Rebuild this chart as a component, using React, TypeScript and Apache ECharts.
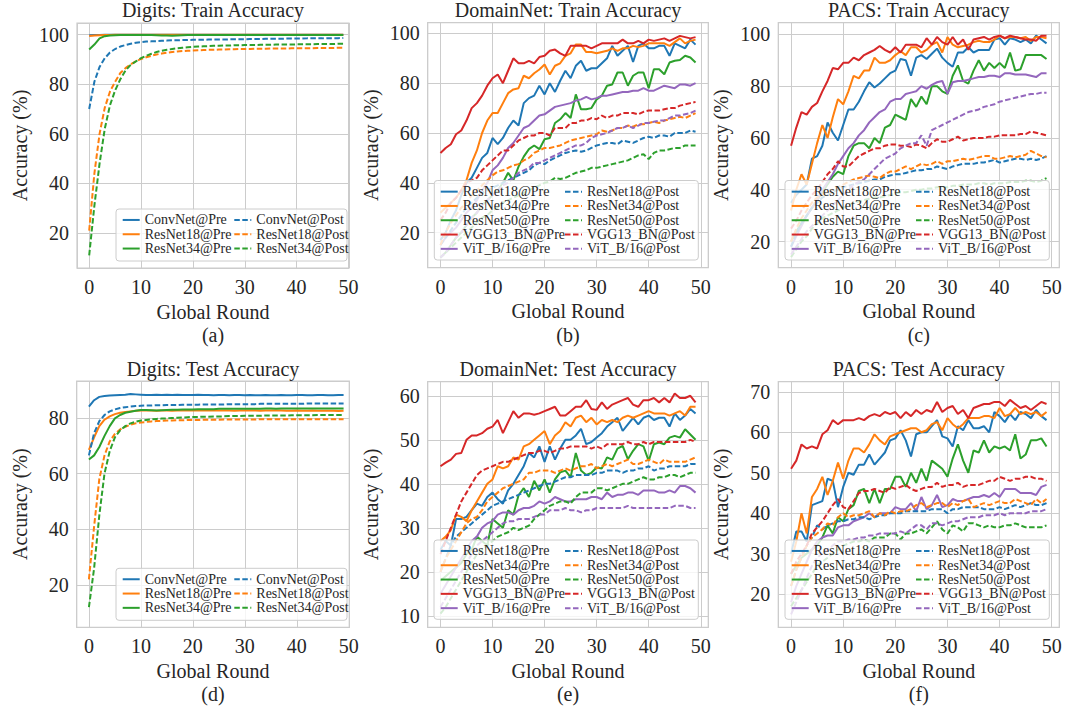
import React, { useEffect, useRef } from "react";
import * as echarts from "echarts";

const rounds = Array.from({ length: 50 }, (_, i) => i);

// ---------- (a) Digits: Train Accuracy ----------
const aConvPre = [
  99.8, 99.9, 99.9, 100, 100, 100, 100, 100, 100, 100,
  100, 100, 100, 100, 100, 100, 100, 100, 100, 100,
  100, 100, 100, 100, 100, 100, 100, 100, 100, 100,
  100, 100, 100, 100, 100, 100, 100, 100, 100, 100,
  100, 100, 100, 100, 100, 100, 100, 100, 100, 100,
];
const aR18Pre = [
  99.5, 99.7, 99.8, 99.9, 99.9, 100, 100, 100, 100, 100,
  100, 100, 100, 100, 100, 100, 100, 100, 100, 100,
  100, 100, 100, 100, 100, 100, 100, 100, 100, 100,
  100, 100, 100, 100, 100, 100, 100, 100, 100, 100,
  100, 100, 100, 100, 100, 100, 100, 100, 100, 100,
];
const aR34Pre = [
  94, 96, 98.5, 99.4, 99.7, 99.8, 99.9, 99.9, 99.9, 99.9,
  99.9, 99.9, 99.9, 99.8, 99.7, 99.7, 99.6, 99.7, 99.8, 99.9,
  99.9, 99.9, 99.9, 99.9, 99.9, 99.9, 99.9, 99.9, 99.9, 99.9,
  99.9, 99.9, 99.9, 99.9, 99.9, 99.9, 99.9, 99.9, 99.9, 99.9,
  99.9, 99.9, 99.9, 99.9, 99.9, 99.9, 99.9, 99.9, 99.9, 99.9,
];
const aConvPost = [
  70, 81, 87, 90.5, 92.8, 94.2, 95.2, 95.8, 96.3, 96.7,
  97, 97.2, 97.3, 97.4, 97.5, 97.6, 97.7, 97.7, 97.8, 97.8,
  97.9, 97.9, 97.9, 98, 98, 98, 98, 98.1, 98.1, 98.1,
  98.1, 98.2, 98.2, 98.2, 98.3, 98.3, 98.3, 98.3, 98.4, 98.4,
  98.4, 98.4, 98.5, 98.5, 98.5, 98.5, 98.6, 98.6, 98.6, 98.7,
];
const aR18Post = [
  21, 44, 60, 70.5, 77, 81, 84.5, 86.5, 88, 89.2,
  90.2, 90.9, 91.5, 92, 92.4, 92.7, 93, 93.2, 93.4, 93.5,
  93.6, 93.7, 93.8, 93.9, 93.9, 94, 94, 94.1, 94.1, 94.2,
  94.2, 94.2, 94.3, 94.3, 94.3, 94.4, 94.4, 94.4, 94.4, 94.5,
  94.5, 94.5, 94.5, 94.5, 94.6, 94.6, 94.6, 94.6, 94.7, 94.7,
];
const aR34Post = [
  11, 31, 48, 62, 71.5, 77.5, 82, 85.5, 87.8, 89.2,
  90.5, 91.5, 92.3, 93, 93.5, 93.9, 94.2, 94.5, 94.7, 94.9,
  95.1, 95.2, 95.3, 95.4, 95.5, 95.5, 95.6, 95.6, 95.7, 95.7,
  95.8, 95.8, 95.8, 95.9, 95.9, 95.9, 96, 96, 96, 96,
  96.1, 96.1, 96.1, 96.1, 96.2, 96.2, 96.2, 96.2, 96.3, 96.3,
];

// ---------- (b) DomainNet: Train Accuracy ----------
const bR18Pre = [
  17, 20, 25, 29, 35, 40, 42, 46, 50, 52,
  58, 55.5, 58, 62, 65, 63, 72, 74, 75, 79,
  75.5, 80, 76.5, 81, 85, 82, 87, 89, 85, 86,
  86, 88, 90, 95, 91, 93, 95, 88.5, 95, 96,
  94, 94, 95, 95, 91, 96, 95, 94, 97.5, 95.5,
];
const bR34Pre = [
  28, 30, 32, 34, 37, 41, 48, 53, 60, 65,
  68, 68, 72, 76, 77.5, 78, 83, 82, 84, 85.5,
  87.5, 83.5, 87, 88, 91, 92, 95.5, 95.5, 92.5, 92.5,
  92, 92.5, 93, 94, 93, 94, 94, 95, 94.5, 95,
  96, 96, 96, 96, 95, 96.5, 98, 96, 97, 97.5,
];
const bR50Pre = [
  10, 12, 15, 18, 20, 23, 26, 28, 31, 33,
  35, 37, 40, 44, 41, 46.5, 50.5, 53.5, 55, 53.5,
  57.5, 58, 64, 65.5, 68, 66, 75.5, 69.5, 69.5, 70,
  73.5, 75, 79, 79.5, 84.3, 84.3, 79, 83, 84.3, 84.3,
  78, 85.6, 85.6, 83.6, 88.3, 89, 89.3, 91, 90.3, 88.3,
];
const bVggPre = [
  52, 54, 55.5, 59.5, 61, 65, 70, 72, 75, 79,
  82, 83.5, 80, 85, 90, 88, 88, 89, 88, 90.5,
  91, 93, 93.5, 92, 91, 95, 95, 95, 95, 94,
  95, 96, 96, 96, 96, 97.5, 96, 96, 97, 96,
  97.5, 97, 97.5, 98, 97, 98, 99, 98.5, 98, 98.5,
];
const bVitPre = [
  15, 18, 20, 22, 25, 28, 30, 33, 37, 40,
  45, 47, 50, 54, 56, 59, 62, 63, 65, 67,
  67.5, 69, 70.5, 71, 71.5, 72, 73, 73.5, 74.5, 73.5,
  74, 75, 75, 75.5, 76, 76.5, 76.5, 77, 77, 78,
  77, 77, 78, 79, 78.5, 78, 79.5, 79.5, 79, 80,
];
const bR18Post = [
  15, 18, 21, 24, 27, 30, 32, 34, 36, 37,
  38, 39, 40, 41, 42, 43, 44, 45, 47, 48,
  47.5, 49, 50, 51, 52, 52.5, 53, 52.5, 53, 54,
  55, 55.5, 56, 56, 55.5, 57, 56.5, 56, 57, 58,
  58.5, 58, 59, 59, 58.5, 60, 60, 60, 61, 60.5,
];
const bR34Post = [
  15, 20, 24, 27, 30, 32, 35, 37, 39, 41,
  43, 44.5, 45, 46, 47, 47.5, 49, 50, 52, 53,
  54, 54, 54.5, 55, 56, 57, 57.5, 58, 58.5, 59,
  59.5, 61, 60.5, 61, 62, 62, 63, 62.5, 63.5, 63.5,
  64, 64.5, 64, 65, 65.5, 66, 66.5, 66, 67, 68,
];
const bR50Post = [
  10, 12, 14, 16, 18, 20, 22, 24, 26, 27,
  29, 30, 32, 33, 34, 35, 36, 37, 38, 39,
  40, 40.5, 42, 41.5, 42, 43, 44, 44.5, 45, 46,
  46, 46.5, 47, 47.5, 48, 48.5, 49, 50, 51, 51.5,
  49.5, 52, 53, 53, 53.5, 54, 54, 55, 55, 55,
];
const bVggPost = [
  25, 28, 32, 34, 37, 40, 41, 42, 45, 47,
  49, 51, 53, 53, 55, 57, 58, 59, 59, 60,
  60, 59, 62, 62, 62, 64, 64, 65, 65, 66,
  65.5, 67, 66, 67, 67, 68, 68, 68, 67.5, 68.5,
  69, 69, 69, 69.5, 70, 70, 71, 71.5, 72, 72.5,
];
const bVitPost = [
  10, 12, 15, 18, 20, 23, 26, 28, 31, 33,
  35, 37, 39, 40, 42, 44, 45, 46, 48, 48,
  49, 50, 51, 52, 53, 54, 55, 55, 56, 58,
  59, 59.5, 60, 61, 62, 62, 63, 62, 63, 64,
  64, 64.5, 65, 65, 66, 67, 67, 67.5, 68, 69,
];

// ---------- (c) PACS: Train Accuracy ----------
const cR18Pre = [
  35, 38, 40, 42, 52, 53, 57, 66, 62, 59,
  65, 71, 71, 74, 78, 81.5, 79.5, 81, 83, 85,
  86, 90.5, 90, 84, 91, 92, 90.5, 92.5, 94.5, 91,
  89, 87.5, 93, 93, 95, 93, 94, 94, 94, 98,
  98.5, 96, 98.5, 98, 97, 98, 96.5, 99.5, 98, 96.5,
];
const cR34Pre = [
  32, 40, 46, 42, 50, 58, 65, 60, 68, 75,
  73, 78, 84, 83, 86, 86, 91, 89, 89, 90,
  92, 93.5, 92, 95, 95, 93, 94, 96, 97, 93,
  99, 96, 95, 95.5, 96, 97, 97.5, 97, 97, 98,
  99.5, 98.5, 99, 99, 98.5, 99, 97.5, 99, 99, 98.5,
];
const cR50Pre = [
  20, 24, 27, 30, 33, 36, 39, 42, 45, 47,
  46, 53, 57, 58, 58, 56, 60, 58, 64, 65,
  69, 68, 67, 75, 72, 76, 73, 80, 80, 78,
  77, 84, 88, 82, 81, 86, 90, 86, 89, 87,
  89, 87, 93, 86, 86.5, 92, 92, 92, 92, 90.5,
];
const cVggPre = [
  57, 64, 70, 69, 72, 73.5, 78, 82, 87, 86.5,
  89, 89, 91, 90, 92, 93, 94, 95.5, 94, 93,
  95, 93, 96, 96, 96, 95, 98.5, 96, 99, 97,
  96, 99, 96, 98, 94, 98, 98.5, 99, 98, 99,
  99.5, 98.5, 99.5, 99, 98.5, 98, 98, 97.5, 99.5, 99.5,
];
const cVitPre = [
  18, 22, 26, 30, 33, 36, 40, 43, 46, 50,
  53, 56, 58, 61, 63, 66, 68, 70, 71, 74,
  75, 75, 77, 77.5, 78, 80, 79, 80.5, 81.5, 82,
  77, 81.5, 82, 82, 82.5, 83, 83.5, 83.5, 84, 84,
  83.5, 85, 85, 84.5, 84.5, 84.5, 84, 83.5, 85, 85,
];
const cR18Post = [
  18, 23, 27, 30, 33, 35, 37, 38, 39, 40,
  41, 41.5, 42, 42.5, 43, 43.5, 44, 44, 45, 45.5,
  46, 46, 46.5, 47, 47.5, 47.5, 48, 48, 49, 48.5,
  48, 49, 49.5, 50, 50, 50, 50.5, 50.5, 51, 51.5,
  50.5, 51, 51.5, 52, 52, 51.5, 52, 51.5, 52, 53,
];
const cR34Post = [
  20, 25, 29, 32, 35, 37, 38, 39, 40, 41,
  42, 43, 44, 44.5, 45, 45.5, 45, 44.5, 46, 47,
  47, 48, 49, 48, 49, 50, 49.5, 50, 51, 50,
  51, 51, 51.5, 52, 51.5, 52, 52.5, 53, 53, 52,
  52, 52.5, 53, 52.5, 53, 53.5, 55, 54, 53, 52.5,
];
const cR50Post = [
  14, 17, 20, 22, 25, 27, 29, 30, 31, 32,
  33, 34, 35, 35.5, 36, 36.5, 37, 37, 37.5, 38,
  38.5, 39, 39, 39.5, 40, 40, 40.5, 40.5, 41, 41,
  41, 41.5, 41.5, 42, 42, 42, 42.5, 42.5, 42, 42.5,
  42.5, 42.5, 43, 43, 43, 43.5, 43.5, 43, 43.5, 44.5,
];
const cVggPost = [
  25, 28, 32, 35, 38, 40, 43, 46, 48, 51,
  49, 49, 51, 53, 54, 55, 56, 56, 57, 57.5,
  57.5, 57, 57, 56.5, 57.5, 57, 56, 58, 59.5, 58.5,
  58.5, 59.5, 60.5, 59, 59.5, 60, 60, 60, 60.5, 60.5,
  61, 61, 61, 61, 61.5, 61.5, 62.5, 62, 61.5, 61,
];
const cVitPost = [
  15, 18, 21, 24, 26, 28, 30, 32, 34, 36,
  38, 40, 42, 43, 44, 46, 48, 50, 52, 53,
  54, 56, 57, 58, 58, 61, 57, 63, 64, 65,
  66, 67, 68, 69, 70, 70.5, 71, 72, 72.5, 73,
  74, 74.5, 75, 75.5, 76, 76.5, 77, 77, 77.5, 77.5,
];

// ---------- (d) Digits: Test Accuracy ----------
const dConvPre = [
  84, 86.3, 87.5, 87.8, 88, 88.1, 88.2, 88.3, 88.5, 88.4,
  88.3, 88.2, 88.2, 88.3, 88.2, 88.3, 88.2, 88.3, 88.2, 88.2,
  88.2, 88.3, 88.2, 88.2, 88.1, 88.2, 88.2, 88.1, 88.2, 88.2,
  88.1, 88.2, 88.1, 88.1, 88.2, 88.1, 88.1, 88.2, 88.1, 88.1,
  88.2, 88.2, 88.1, 88.1, 88.2, 88.2, 88.1, 88.1, 88.2, 88.2,
];
const dR18Pre = [
  68.5, 73, 77, 79.3, 80.5, 81.3, 81.8, 82.1, 82.3, 82.5,
  82.6, 82.6, 82.6, 82.5, 82.6, 82.6, 82.5, 82.6, 82.6, 82.6,
  82.6, 82.6, 82.6, 82.6, 82.6, 82.6, 82.6, 82.6, 82.5, 82.6,
  82.6, 82.6, 82.6, 82.5, 82.6, 82.6, 82.6, 82.6, 82.5, 82.5,
  82.6, 82.5, 82.5, 82.6, 82.5, 82.5, 82.5, 82.5, 82.4, 82.5,
];
const dR34Pre = [
  65, 66.5, 69.5, 73.5, 77, 79.8, 81, 81.8, 82.2, 82.5,
  82.8, 82.8, 82.7, 82.6, 82.7, 82.8, 82.9, 82.9, 83, 83,
  83, 83.1, 83.1, 83.1, 83.1, 83.2, 83.2, 83.2, 83.2, 83.2,
  83.2, 83.2, 83.2, 83.2, 83.3, 83.3, 83.2, 83.3, 83.3, 83.3,
  83.3, 83.3, 83.3, 83.3, 83.3, 83.3, 83.3, 83.3, 83.3, 83.3,
];
const dConvPost = [
  66.5, 74.5, 78.8, 81, 82.3, 83, 83.5, 83.8, 84, 84.2,
  84.3, 84.4, 84.4, 84.5, 84.5, 84.6, 84.6, 84.6, 84.7, 84.7,
  84.7, 84.7, 84.8, 84.8, 84.8, 84.8, 84.8, 84.9, 84.9, 84.9,
  84.9, 84.9, 84.9, 85, 85, 85, 85, 85, 85, 85,
  85, 85, 85.1, 85.1, 85.1, 85.1, 85.1, 85.1, 85.1, 85.1,
];
const dR18Post = [
  22, 41, 58, 66.5, 71.5, 74.2, 75.8, 76.8, 77.5, 78,
  78.3, 78.5, 78.7, 78.8, 78.9, 79, 79, 79.1, 79.1, 79.2,
  79.2, 79.2, 79.3, 79.3, 79.3, 79.3, 79.4, 79.4, 79.4, 79.4,
  79.4, 79.4, 79.4, 79.5, 79.5, 79.5, 79.5, 79.5, 79.5, 79.5,
  79.5, 79.5, 79.5, 79.5, 79.5, 79.5, 79.5, 79.5, 79.5, 79.5,
];
const dR34Post = [
  12, 26, 45, 60, 68, 73, 75.5, 77, 78, 78.6,
  79, 79.2, 79.4, 79.6, 79.7, 79.8, 79.9, 80, 80.1, 80.2,
  80.3, 80.3, 80.4, 80.4, 80.5, 80.5, 80.5, 80.6, 80.6, 80.6,
  80.7, 80.7, 80.7, 80.7, 80.8, 80.8, 80.8, 80.8, 80.8, 80.9,
  80.9, 80.9, 80.9, 80.9, 81, 81, 81, 81, 81, 81,
];

// ---------- (e) DomainNet: Test Accuracy ----------
const eR18Pre = [
  25, 27, 26, 32, 32, 32.5, 34, 35.5, 35, 37,
  38, 36.5, 35.5, 38.5, 40, 42, 44, 47, 46, 48.5,
  45, 48.5, 45.5, 48, 50, 50, 51, 52.5, 49, 49.5,
  50.5, 51.5, 53, 54, 55, 52, 53.5, 55, 53.5, 55,
  55.5, 54.5, 55, 55, 53, 56, 54.5, 55.5, 57, 56,
];
const eR34Pre = [
  27, 28, 29.5, 33, 32.5, 31.5, 34, 36, 38, 40,
  41, 44, 43.5, 44, 46, 45.5, 48.5, 49, 50, 51,
  52, 49, 51, 52, 54, 53, 55, 55.5, 54, 55,
  53.5, 54.5, 54, 54.5, 54, 55, 55.5, 55, 55.5, 56,
  56.5, 56, 56, 56, 55.5, 56, 56.5, 55.5, 57.5, 57.5,
];
const eR50Pre = [
  18, 19, 20, 21, 22, 24, 25, 28, 27, 26,
  32, 31, 30, 34, 33, 37.4, 39, 37, 40.7, 38.5,
  41, 38, 41, 42.6, 43, 41.5, 47, 43, 42, 42.5,
  43.7, 43.5, 46, 45.5, 48, 48.6, 45.6, 47.5, 49, 48.5,
  45.2, 49, 49.4, 49, 50.5, 50.9, 50.5, 52.4, 51.2, 50,
];
const eVggPre = [
  44, 44.8, 45.5, 46.8, 47, 50, 51, 51, 51.5, 52.5,
  53, 54.5, 51.5, 54, 56.5, 55, 56, 56, 55.7, 56,
  56.5, 57, 57.5, 55.5, 55.5, 56.5, 57.5, 57.5, 59, 57,
  56.8, 58.5, 57, 58, 58.5, 59, 59.5, 58, 57.5, 59,
  59, 59.5, 58.5, 59.5, 58.5, 60.5, 59.5, 59.5, 60, 58.5,
];
const eVitPre = [
  15, 17, 19, 21, 23, 25, 27, 28, 30, 31,
  31.5, 33, 33.5, 33.5, 33, 34, 34.5, 34.5, 35, 36,
  35.5, 36, 37, 36.5, 36, 36, 36.5, 36.5, 36.5, 37,
  37, 36.5, 38, 37, 37.5, 37.5, 38, 38, 37.5, 38.5,
  38.5, 38.5, 38, 38, 38.5, 38, 39.5, 39.5, 39, 38,
];
const eR18Post = [
  20, 23, 26, 28, 29, 30, 31, 32, 33, 34,
  35, 35.5, 36, 36.5, 37, 37.5, 38, 38.5, 39, 39.5,
  40, 40, 40.5, 41, 41.5, 41.5, 42, 42, 42, 42,
  42.5, 42.5, 43, 43, 43, 42.5, 43, 43, 43.5, 43.5,
  44, 43, 43.5, 43.5, 44, 44, 44, 44, 44.5, 44.5,
];
const eR34Post = [
  20, 23, 25, 27, 29, 31, 32, 32.5, 34, 36,
  37, 38, 39, 39.5, 40, 40.5, 41, 42.5, 42.5, 43,
  43, 43, 42.5, 43, 43.5, 43, 43.5, 44, 44, 44.5,
  43.5, 44, 44.5, 44, 44.5, 45, 45.5, 44.5, 44.5, 45,
  45.5, 45, 44.5, 45.5, 45, 45, 45, 45, 45.5, 46,
];
const eR50Post = [
  10.5, 12, 14, 16, 18, 20, 22, 24, 25, 26,
  27, 28, 28.5, 29, 30, 29.5, 30, 30.5, 32, 33,
  34, 35, 35.5, 36, 36, 35.5, 37, 38, 38, 38,
  39, 39, 38.5, 39, 39.5, 40, 40, 40.5, 41, 41.5,
  41, 41, 41.5, 41.5, 42, 42, 41.5, 42, 42.5, 42.5,
];
const eVggPost = [
  24, 27, 30, 33, 36, 38, 40, 42, 43, 43.5,
  44, 44.5, 45, 45, 45.5, 46, 46.5, 47, 47, 47.5,
  47.5, 47, 47.5, 48, 48, 48.5, 48.5, 48.5, 48.5, 48,
  48.5, 48, 49, 49, 49, 49, 49.5, 49, 49, 49.5,
  49, 49.5, 49.5, 49.5, 49.5, 49.5, 49.5, 49.5, 50, 49.5,
];
const eVitPost = [
  12, 14, 16, 18, 20, 22, 24, 26, 27, 28,
  29, 30, 31, 31.5, 31.5, 32, 32, 32, 32.5, 33,
  33, 34, 34, 34, 34.5, 34, 34, 33.5, 34, 34,
  34.5, 34.5, 34.5, 34.5, 34.5, 34.5, 35, 34.5, 34.5, 34.5,
  34.5, 34.5, 34.5, 34.5, 34.5, 35, 35, 35, 34.5, 34.5,
];

// ---------- (f) PACS: Test Accuracy ----------
const fR18Pre = [
  30, 35.5, 35.5, 33, 42, 42.5, 43, 48.5, 48, 41.5,
  46.5, 50, 49.5, 52, 52, 54.5, 52, 53.5, 55, 58,
  58.5, 60.5, 58, 54, 59.5, 60, 60, 61.5, 63, 59,
  58.5, 56.5, 61.5, 60.5, 63, 61, 61, 61.5, 60, 65,
  64, 62.5, 64.5, 63, 65, 64.5, 63.5, 65.5, 64, 63,
];
const fR34Pre = [
  28, 33, 40, 35, 44, 46, 49, 44.5, 48, 52.5,
  48.5, 53, 56, 56, 55, 57, 59.5, 58, 57, 59,
  59.5, 60, 60.5, 61, 61, 60, 60.5, 62, 62.5, 60.5,
  63.5, 62, 61, 62, 63.5, 63.5, 63.5, 64, 64, 63.5,
  66, 64, 64.5, 66, 64.5, 65, 64.5, 65, 64, 65,
];
const fR50Pre = [
  25, 27, 29, 30, 31, 32, 34, 37, 35, 39,
  38, 41, 42, 45.5, 46, 42.5, 46, 42.5, 46, 46,
  49, 49, 46.5, 50, 47.5, 51, 48, 53, 52, 51,
  49, 53.5, 57, 53, 50, 55.5, 55, 58, 55, 56.5,
  56, 56.5, 55.5, 59.5, 53.5, 54.5, 58, 58, 58.5, 56.5,
];
const fVggPre = [
  51, 53, 57, 56, 56.5, 56, 59.5, 60.5, 63, 62,
  63, 63, 63, 63.5, 63, 64, 64.5, 64, 65, 64.5,
  65, 63.5, 65, 64, 65.5, 64.5, 65.5, 65, 67.5, 65,
  66, 66.5, 64.5, 65.5, 63.5, 66, 66.5, 67, 67, 67.5,
  67.5, 66.5, 68, 67, 66, 66.5, 65.5, 66.5, 67.5, 67,
];
const fVitPre = [
  18, 22, 25, 28, 31, 33, 34, 34.5, 34.5, 36.5,
  37, 37, 38, 38.5, 39, 40, 39, 40, 40, 40,
  41.5, 41, 41, 42.5, 40.5, 44, 41, 42, 44.5, 41.5,
  42, 43.5, 43, 43, 43.5, 44, 44, 44.5, 44, 45,
  44, 46, 46, 46, 45, 45, 45, 44.5, 46.5, 47,
];
const fR18Post = [
  22, 26, 29, 32, 34, 37, 36, 37, 37.5, 38,
  38, 38.5, 38.5, 39, 39, 38.5, 39, 39.5, 39.5, 40,
  40, 40, 40.5, 40.5, 40.5, 40.5, 40.5, 41, 41, 41,
  40, 41, 41, 41.5, 41.5, 41.5, 41.5, 41, 41, 41,
  41.5, 41, 41.5, 42, 41.5, 42, 42.5, 42, 42, 42.5,
];
const fR34Post = [
  22, 26, 29, 32, 34, 35, 36, 37.5, 37, 39,
  40, 39, 39.5, 39.5, 40, 40.5, 39, 40, 39.5, 40.5,
  40, 40.5, 40.5, 41, 42, 42.5, 41.5, 42, 42.5, 42.5,
  41.5, 42.5, 42, 43, 43.5, 41.5, 42, 42.5, 42, 42.5,
  43, 42.5, 42.5, 43.5, 43, 42.5, 42, 43.5, 42.5, 43.5,
];
const fR50Post = [
  17, 19, 21, 23, 25, 27, 28, 29, 30, 31,
  32, 32.5, 33, 33, 33.5, 33, 34, 34, 34, 35,
  35, 33.5, 35, 35, 35.5, 36, 35, 36.5, 38, 36,
  35, 37, 36.5, 35.5, 37.5, 37.5, 37, 36.5, 37, 36.5,
  36.5, 37, 37, 37.5, 37, 36.5, 36.5, 36.5, 36.5, 37,
];
const fVggPost = [
  25, 28, 30, 32, 35, 36.5, 38, 40, 42, 43.5,
  41.5, 41, 43, 45, 45.5, 45.5, 46, 45.5, 45, 46.5,
  46, 46.5, 47, 46, 45.5, 46, 46.5, 46.5, 47.5, 46.5,
  47, 47, 47.5, 46.5, 47, 47, 47, 47.5, 48, 48,
  49, 48.5, 48, 48.5, 48.5, 49, 49, 48.5, 48.5, 48,
];
const fVitPost = [
  15, 18, 21, 24, 27, 29, 30, 31, 32, 33,
  33, 33.5, 33.5, 34, 34, 34.5, 34.5, 35, 35, 35,
  35, 35.5, 35, 36, 37, 37, 36, 37.5, 37.5, 37,
  37.5, 38, 38, 38.5, 39, 39, 39, 39.5, 39.5, 39.5,
  40, 39.5, 40, 40, 40, 40, 40.5, 40.5, 40.5, 41,
];

const digitsModels = ["ConvNet", "ResNet18", "ResNet34"];
const bigModels = ["ResNet18", "ResNet34", "ResNet50", "VGG13_BN", "ViT_B/16"];
const palette = ["#1f77b4", "#ff7f0e", "#2ca02c", "#d62728", "#9467bd"];

const FONT = "Liberation Serif";
const INK = "#262626";
const GRIDC = "#cccccc";

const panels = [
  {
    id: "a", title: "Digits: Train Accuracy", tag: "(a)", models: digitsModels,
    pre: [aConvPre, aR18Pre, aR34Pre], post: [aConvPost, aR18Post, aR34Post],
    box: { left: 77, top: 23, width: 272, height: 245 }, xr: [-2.35, 50.1], yr: [5.9, 104.7],
    leg: { top: 212.8, preLeft: 121.7, postLeft: 233.3, rect: [116, 209, 231, 52] },
  },
  {
    id: "b", title: "DomainNet: Train Accuracy", tag: "(b)", models: bigModels,
    pre: [bR18Pre, bR34Pre, bR50Pre, bVggPre, bVitPre], post: [bR18Post, bR34Post, bR50Post, bVggPost, bVitPost],
    box: { left: 427.7, top: 22.7, width: 280.6, height: 245 }, xr: [-2.45, 51.45], yr: [5.9, 104.3],
    leg: { top: 184.5, preLeft: 439.7, postLeft: 564, rect: [434.3, 180.5, 264, 79.5] },
  },
  {
    id: "c", title: "PACS: Train Accuracy", tag: "(c)", models: bigModels,
    pre: [cR18Pre, cR34Pre, cR50Pre, cVggPre, cVitPre], post: [cR18Post, cR34Post, cR50Post, cVggPost, cVitPost],
    box: { left: 778.3, top: 22.7, width: 281, height: 245 }, xr: [-2.45, 51.45], yr: [9.9, 104.5],
    leg: { top: 184.5, preLeft: 790.7, postLeft: 915, rect: [785, 180.5, 264.3, 79.5] },
  },
  {
    id: "d", title: "Digits: Test Accuracy", tag: "(d)", models: digitsModels,
    pre: [dConvPre, dR18Pre, dR34Pre], post: [dConvPost, dR18Post, dR34Post],
    box: { left: 76.7, top: 381, width: 272.6, height: 246.3 }, xr: [-2.35, 50.1], yr: [4.8, 93.2],
    leg: { top: 572.1, preLeft: 121.7, postLeft: 233.3, rect: [116, 568.3, 231, 52] },
  },
  {
    id: "e", title: "DomainNet: Test Accuracy", tag: "(e)", models: bigModels,
    pre: [eR18Pre, eR34Pre, eR50Pre, eVggPre, eVitPre], post: [eR18Post, eR34Post, eR50Post, eVggPost, eVitPost],
    box: { left: 427.7, top: 381.7, width: 280.6, height: 245.6 }, xr: [-2.45, 51.45], yr: [7.4, 63.2],
    leg: { top: 543.8, preLeft: 439.7, postLeft: 564, rect: [434, 540, 264.3, 79.3] },
  },
  {
    id: "f", title: "PACS: Test Accuracy", tag: "(f)", models: bigModels,
    pre: [fR18Pre, fR34Pre, fR50Pre, fVggPre, fVitPre], post: [fR18Post, fR34Post, fR50Post, fVggPost, fVitPost],
    box: { left: 778.3, top: 381.7, width: 281, height: 245.6 }, xr: [-2.45, 51.45], yr: [11.8, 72.5],
    leg: { top: 543.8, preLeft: 790.7, postLeft: 915, rect: [785, 540, 264.3, 79.3] },
  },
];

function buildOption() {
  const grid: any[] = [];
  const xAxis: any[] = [];
  const yAxis: any[] = [];
  const series: any[] = [];
  const legend: any[] = [];
  const graphic: any[] = [];

  panels.forEach((p, i) => {
    grid.push({
      left: p.box.left, top: p.box.top, width: p.box.width, height: p.box.height,
      show: true, borderColor: GRIDC, borderWidth: 1.25, backgroundColor: "transparent",
    });
    const labelStyle = { fontSize: 20, fontFamily: FONT, fontWeight: "normal", color: INK, showMinLabel: false, showMaxLabel: false };
    const axisCommon = {
      gridIndex: i, type: "value", splitNumber: 5,
      axisLine: { show: false }, axisTick: { show: false },
      splitLine: { show: true, lineStyle: { color: GRIDC, width: 1 } },
    };
    xAxis.push({
      ...axisCommon, min: p.xr[0], max: p.xr[1],
      axisLabel: { ...labelStyle, margin: 9 },
    });
    yAxis.push({
      ...axisCommon, min: p.yr[0], max: p.yr[1],
      axisLabel: { ...labelStyle, margin: 8 },
    });

    const preNames: string[] = [];
    const postNames: string[] = [];
    const addSeries = (vals: number[], model: string, j: number, kind: string) => {
      const name = `${model}@${kind}#${p.id}`;
      (kind === "Pre" ? preNames : postNames).push(name);
      series.push({
        type: "line", name, xAxisIndex: i, yAxisIndex: i,
        data: vals.map((v, k) => [rounds[k], v]),
        symbol: "none", showSymbol: false, silent: true, z: 2,
        lineStyle: { color: palette[j], width: 2, type: kind === "Pre" ? "solid" : [5.5, 2.5] },
        itemStyle: { color: palette[j] },
        emphasis: { disabled: true },
      });
    };
    p.pre.forEach((vals, j) => addSeries(vals, p.models[j], j, "Pre"));
    p.post.forEach((vals, j) => addSeries(vals, p.models[j], j, "Post"));

    const legCommon = {
      orient: "vertical", top: p.leg.top, itemWidth: 17, itemHeight: 10, itemGap: 0, padding: 0,
      selectedMode: false, z: 20,
      itemStyle: { opacity: 0, borderWidth: 0 },
      textStyle: { fontSize: 14, lineHeight: 14.3, fontFamily: FONT, color: INK },
      formatter: (n: string) => n.split("#")[0],
    };
    legend.push({ ...legCommon, left: p.leg.preLeft, data: preNames });
    legend.push({ ...legCommon, left: p.leg.postLeft, data: postNames });

    const [rx, ry, rw, rh] = p.leg.rect;
    graphic.push({
      type: "rect", z: 10, silent: true,
      shape: { x: rx, y: ry, width: rw, height: rh, r: 3 },
      style: { fill: "rgba(255,255,255,0.8)", stroke: GRIDC, lineWidth: 1 },
    });

    const cx = p.box.left + p.box.width / 2;
    const cy = p.box.top + p.box.height / 2;
    const rowTop = i < 3 ? 0 : 359;
    const txt = (x: number, y: number, text: string, extra: any = {}) => ({
      type: "text", x, y, silent: true, ...extra,
      style: { text, fontSize: 20, fontFamily: FONT, fill: INK, textAlign: "center", textVerticalAlign: "middle" },
    });
    graphic.push(txt(cx, rowTop + 10, p.title));
    graphic.push(txt(cx, p.box.top + p.box.height + 43.5, "Global Round"));
    graphic.push(txt(cx, p.box.top + p.box.height + 67, p.tag));
    graphic.push(txt(p.box.left - 57, cy, "Accuracy (%)", { rotation: Math.PI / 2 }));
  });

  return {
    animation: false, backgroundColor: "#ffffff",
    textStyle: { fontFamily: FONT, color: INK },
    grid, xAxis, yAxis, series, legend, graphic,
  };
}

export default function App() {
  const ref = useRef<HTMLDivElement>(null);
  useEffect(() => {
    if (!ref.current) return;
    const chart = echarts.init(ref.current, undefined, { renderer: "svg" });
    chart.setOption(buildOption() as any);
    return () => chart.dispose();
  }, []);
  return (
    <div
      ref={ref}
      style={{ position: "fixed", left: 0, top: 0, width: 1068, height: 706, background: "#fff" }}
    />
  );
}
